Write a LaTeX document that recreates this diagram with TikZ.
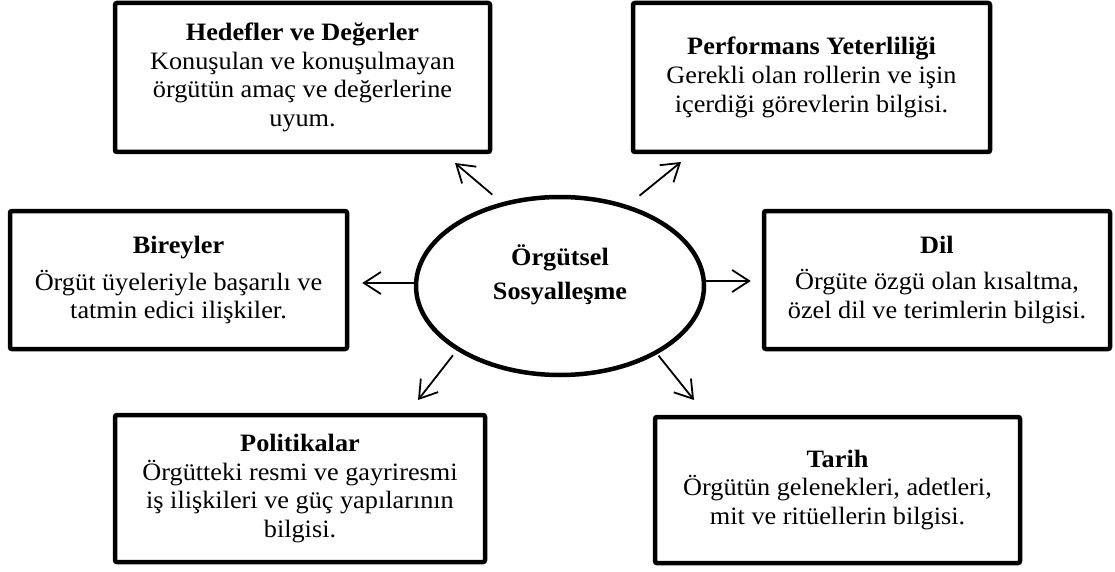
\documentclass[tikz,border=0pt]{standalone}
\usepackage{fontspec}
\setmainfont{Liberation Serif}[FakeStretch=1.05]
\usetikzlibrary{arrows.meta,shapes.geometric}

\begin{document}
\begin{tikzpicture}[x=1pt, y=-1pt, >={Straight Barb[length=17pt,width=22pt]},
		infobox/.style={draw, line width=4.5pt, rounded corners=2pt, align=center, inner sep=0pt,
			font=\fontsize{25}{28.7}\selectfont},
		arr/.style={->, line width=1.8pt}]
			\useasboundingbox (0,0) rectangle (1115,572);
			
			\node (org) [ellipse, draw, line width=4.5pt, minimum width=288pt, minimum height=178pt] at (560,286) {};
			\node (orgtxt) [font=\bfseries\fontsize{25}{34}\selectfont, align=center] at (560,275) {Örgütsel\\Sosyalleşme};
			
			\node (hed) [infobox, minimum width=375pt, minimum height=149pt] at (302.5,77.5)
			{\textbf{Hedefler ve Değerler}\\Konuşulan ve konuşulmayan\\örgütün amaç ve değerlerine\\uyum.};
			\node (per) [infobox, minimum width=357pt, minimum height=149pt] at (811.5,77.5)
			{\textbf{Performans Yeterliliği}\\Gerekli olan rollerin ve işin\\içerdiği görevlerin bilgisi.};
			\node (bir) [infobox, minimum width=337pt, minimum height=138pt] at (178.5,280)
			{\textbf{Bireyler}\\[8pt]Örgüt üyeleriyle başarılı ve\\tatmin edici ilişkiler.};
			\node (dil) [infobox, minimum width=346pt, minimum height=138pt] at (937,280)
			{\textbf{Dil}\\[8pt]Örgüte özgü olan kısaltma,\\özel dil ve terimlerin bilgisi.};
			\node (pol) [infobox, minimum width=370pt, minimum height=147pt] at (300,488.5)
			{\textbf{Politikalar}\\Örgütteki resmi ve gayriresmi\\iş ilişkileri ve güç yapılarının\\bilgisi.};
			\node (tar) [infobox, minimum width=365pt, minimum height=146pt] at (837.5,490)
			{\textbf{Tarih}\\Örgütün gelenekleri, adetleri,\\mit ve ritüellerin bilgisi.};
			
			\coordinate (tiphed) at (455,163);
			\coordinate (tipper) at (681,162);
			\coordinate (tippol) at (418,400);
			\coordinate (tiptar) at (694,400);
			
			\draw[arr, shorten <=12pt] (org.125) -- (tiphed);
			\draw[arr, shorten <=15pt] (org.50) -- (tipper);
			\draw[arr, shorten <=6pt] (org.212) -- (tippol);
			\draw[arr, shorten <=2pt] (org.325) -- (tiptar);
			\draw[arr, shorten >=13pt] ([yshift=3pt]org.west) -- ([yshift=3pt]org.west -| bir.east);
			\draw[arr, shorten >=11pt] ([yshift=5pt]org.east) -- ([yshift=5pt]org.east -| dil.west);
		\end{tikzpicture}
\end{document}
